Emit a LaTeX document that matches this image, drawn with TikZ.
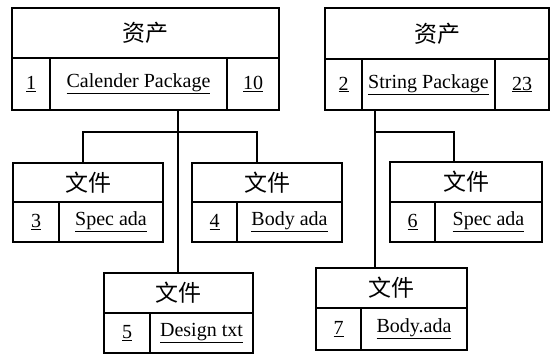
\documentclass[tikz,border=0pt]{standalone}
\usepackage{fontspec}
\setmainfont{Liberation Serif}
\newfontfamily\cjk{Noto Sans CJK SC}
\begin{document}
\begin{tikzpicture}[x=1pt,y=-1pt,
  cell/.style={draw, line width=1.3pt, inner sep=0pt, font=\fontsize{20}{23}\selectfont},
  ttl/.style={cell, font=\cjk\fontsize{23}{26}\selectfont},
  link/.style={line width=1.3pt}]
\useasboundingbox (0,0) rectangle (552,354);
% helper: cell from (x1,y1) to (x2,y2)
\newcommand{\cellbox}[7]{\node[#1, minimum width={#4-#2}, minimum height={#5-#3}] (#6) at ({(#2+#4)/2},{(#3+#5)/2}) {#7};}
% Box A
\cellbox{ttl}{12}{8}{279}{58}{Ta}{资产}
\cellbox{cell}{12}{58}{50}{110}{Aa}{\underline{1}}
\cellbox{cell}{50}{58}{227}{110}{Ab}{\underline{Calender Package}}
\cellbox{cell}{227}{58}{279}{110}{Ac}{\underline{10}}
% Box B
\cellbox{ttl}{325}{8}{549}{59}{Tb}{资产}
\cellbox{cell}{325}{59}{362}{110}{Ba}{\underline{2}}
\cellbox{cell}{362}{59}{495}{110}{Bb}{\underline{String Package}}
\cellbox{cell}{495}{59}{549}{110}{Bc}{\underline{23}}
% Box 3
\cellbox{ttl}{13}{163}{163}{202}{T3}{文件}
\cellbox{cell}{13}{202}{59}{242}{C3a}{\underline{3}}
\cellbox{cell}{59}{202}{163}{242}{C3b}{\underline{Spec ada}}
% Box 4
\cellbox{ttl}{192}{163}{342}{202}{T4}{文件}
\cellbox{cell}{192}{202}{237}{242}{C4a}{\underline{4}}
\cellbox{cell}{237}{202}{342}{242}{C4b}{\underline{Body ada}}
% Box 5
\cellbox{ttl}{104}{273}{253}{313}{T5}{文件}
\cellbox{cell}{104}{313}{150}{353}{C5a}{\underline{5}}
\cellbox{cell}{150}{313}{253}{353}{C5b}{\underline{Design txt}}
% Box 6
\cellbox{ttl}{390}{162}{542}{202}{T6}{文件}
\cellbox{cell}{390}{202}{435}{242}{C6a}{\underline{6}}
\cellbox{cell}{435}{202}{542}{242}{C6b}{\underline{Spec ada}}
% Box 7
\cellbox{ttl}{316}{268}{467}{308}{T7}{文件}
\cellbox{cell}{316}{308}{361}{350}{C7a}{\underline{7}}
\cellbox{cell}{361}{308}{467}{350}{C7b}{\underline{Body.ada}}
% connectors left
\coordinate (jm) at (178,132);
\coordinate (jl) at (83,132);
\coordinate (jr) at (257,132);
\draw[link] (jm |- Ab.south) -- (jm |- T5.north);
\draw[link] (jl |- T3.north) -- (jl) -- (jr) -- (jr |- T4.north);
% connectors right
\coordinate (km) at (375,132);
\coordinate (kr) at (454,132);
\draw[link] (km |- Bb.south) -- (km |- T7.north);
\draw[link] (km) -- (kr) -- (kr |- T6.north);
\end{tikzpicture}
\end{document}
